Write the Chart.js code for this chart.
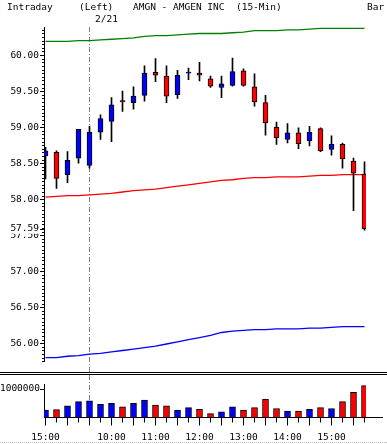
<!DOCTYPE html>
<html>
<head>
<meta charset="utf-8">
<title>AMGN Intraday</title>
<script src="https://cdn.jsdelivr.net/npm/chart.js@4.4.1/dist/chart.umd.min.js"></script>
<style>
  body { margin: 0; background: #fff; }
  #wrap { position: relative; width: 387px; height: 444px; overflow: hidden; font: 9.5px "DejaVu Sans Mono", monospace; color: #000; }
  .lbl { position: absolute; line-height: 10px; white-space: pre; }
  #priceBox { position: absolute; left: 0; top: 0; }
  #volBox { position: absolute; left: 0; top: 372px; width: 387px; height: 69px; border-top: 3px double #000; }
  #bottomRule { position: absolute; left: 0; top: 442px; width: 387px; border-top: 1px dotted #bbb; }
</style>
</head>
<body>
<div id="wrap">
  <div id="bottomRule"></div>
  <div id="priceBox"><canvas id="priceChart" width="387" height="372"></canvas></div>
  <div id="volBox"><canvas id="volChart" width="387" height="69"></canvas></div>
  <span class="lbl" style="left:7px;top:2px">Intraday</span>
  <span class="lbl" style="left:79px;top:2px">(Left)</span>
  <span class="lbl" style="left:133px;top:2px">AMGN - AMGEN INC  (15-Min)</span>
  <span class="lbl" style="left:367px;top:2px">Bar</span>
  <span class="lbl" style="left:95px;top:14px">2/21</span>
</div>
<script>
//! bars (15 min), previous session tail + 2/21
const times = ['15:00', '15:15', '15:30', '15:45', '9:30', '9:45', '10:00', '10:15', '10:30', '10:45',
    '11:00', '11:15', '11:30', '11:45', '12:00', '12:15', '12:30', '12:45', '13:00', '13:15',
    '13:30', '13:45', '14:00', '14:15', '14:30', '14:45', '15:00', '15:15', '15:30', '15:45'];

const opens  = [58.60, 58.65, 58.34, 58.57, 58.47, 58.93, 59.08, 59.37, 59.34, 59.44,
    59.76, 59.71, 59.45, 59.75, 59.75, 59.67, 59.55, 59.58, 59.78, 59.56,
    59.34, 59.00, 58.83, 58.92, 58.81, 58.98, 58.69, 58.76, 58.53, 58.35];
const highs  = [58.72, 58.67, 58.66, 58.97, 59.01, 59.17, 59.41, 59.50, 59.56, 59.85,
    59.95, 59.85, 59.79, 59.82, 59.90, 59.71, 59.71, 59.96, 59.81, 59.74,
    59.44, 59.07, 59.05, 58.99, 59.01, 58.99, 58.88, 58.78, 58.57, 58.52];
const lows   = [58.28, 58.15, 58.23, 58.50, 58.43, 58.83, 58.80, 59.22, 59.25, 59.36,
    59.63, 59.34, 59.40, 59.66, 59.64, 59.55, 59.41, 59.57, 59.57, 59.29,
    58.89, 58.76, 58.78, 58.70, 58.74, 58.66, 58.61, 58.43, 57.84, 57.57];
const closes = [58.67, 58.29, 58.54, 58.97, 58.93, 59.12, 59.31, 59.35, 59.43, 59.75,
    59.72, 59.43, 59.72, 59.76, 59.72, 59.57, 59.60, 59.77, 59.58, 59.35,
    59.06, 58.85, 58.92, 58.77, 58.93, 58.67, 58.76, 58.56, 58.36, 57.59];

const volumes = [240000, 260000, 390000, 540000, 570000, 450000, 480000, 360000, 480000, 600000,
    420000, 390000, 240000, 330000, 270000, 120000, 180000, 360000, 240000, 330000,
    630000, 300000, 210000, 210000, 270000, 330000, 300000, 540000, 870000, 1110000];

//! moving average + bands
const upperBand = [60.19, 60.19, 60.19, 60.20, 60.20, 60.21, 60.22, 60.23, 60.24, 60.26,
    60.27, 60.27, 60.28, 60.29, 60.30, 60.30, 60.30, 60.31, 60.32, 60.34,
    60.34, 60.34, 60.35, 60.35, 60.36, 60.37, 60.37, 60.37, 60.37, 60.37];
const midLine   = [58.03, 58.04, 58.05, 58.05, 58.06, 58.07, 58.08, 58.10, 58.12, 58.13,
    58.14, 58.16, 58.18, 58.20, 58.22, 58.24, 58.26, 58.27, 58.29, 58.30,
    58.30, 58.31, 58.31, 58.31, 58.32, 58.33, 58.33, 58.34, 58.34, 58.34];
const lowerBand = [55.80, 55.80, 55.82, 55.83, 55.85, 55.86, 55.88, 55.90, 55.92, 55.94,
    55.96, 55.99, 56.02, 56.05, 56.08, 56.11, 56.15, 56.17, 56.18, 56.19,
    56.19, 56.20, 56.20, 56.20, 56.21, 56.21, 56.22, 56.23, 56.23, 56.23];

const priceTicks = [56.00, 56.50, 57.00, 57.50, 58.00, 58.50, 59.00, 59.50, 60.00];
const volumeTicks = [1000000];

const sessionStart = times.indexOf('9:30');

Chart.defaults.font.family = '"DejaVu Sans Mono", monospace';
Chart.defaults.font.size = 9.5;
Chart.defaults.color = '#000';

const UP = '#0000ff';
const DOWN = '#ff0000';
const candleColors = closes.map((c, i) => c >= opens[i] ? UP : DOWN);
const xMin = -1.5 / 11;
const xMax = 29 + 1.5 / 11;

//! dashed line where the session starts
const sessionLine = {
    id: 'sessionLine',
    beforeDatasetsDraw(chart, args, opts) {
        const { ctx, chartArea, scales: { x } } = chart;
        const px = Math.floor(x.getPixelForValue(sessionStart)) + 0.5;
        ctx.save();
        ctx.strokeStyle = '#808080';
        ctx.lineWidth = 1;
        ctx.setLineDash([5, 2, 1, 2]);
        ctx.beginPath();
        ctx.moveTo(px, opts.fromTop ? 0 : chartArea.top);
        ctx.lineTo(px, opts.toBottom ? chart.height : chartArea.bottom);
        ctx.stroke();
        ctx.restore();
    }
};

//! small ticks on the price axis + last close label
const priceAxisMarks = {
    id: 'priceAxisMarks',
    afterDraw(chart) {
        const { ctx, chartArea, scales: { y } } = chart;
        const x0 = chartArea.left;
        ctx.save();
        ctx.strokeStyle = '#000';
        ctx.lineWidth = 1;
        ctx.beginPath();
        for (let k = Math.ceil(y.min / 0.05 - 1e-6); k * 0.05 <= y.max + 1e-6; k++) {
            const py = Math.round(y.getPixelForValue(k * 0.05)) + 0.5;
            const len = k % 10 === 0 ? 4 : 2;
            ctx.moveTo(x0 - len, py);
            ctx.lineTo(x0, py);
        }
        ctx.stroke();

        const last = closes[closes.length - 1];
        const ly = y.getPixelForValue(last);
        ctx.fillStyle = '#fff';
        ctx.fillRect(0, ly - 5, x0 - 5, 10);
        ctx.fillStyle = '#000';
        ctx.font = '9.5px "DejaVu Sans Mono", monospace';
        ctx.textAlign = 'right';
        ctx.textBaseline = 'middle';
        ctx.fillText(last.toFixed(2), x0 - 5, ly);
        ctx.beginPath();
        ctx.moveTo(x0 - 4, Math.round(ly) + 0.5);
        ctx.lineTo(x0, Math.round(ly) + 0.5);
        ctx.stroke();
        ctx.restore();
    }
};

//! time ticks + base line of the volume panel
const volAxisMarks = {
    id: 'volAxisMarks',
    afterDraw(chart) {
        const { ctx, chartArea, scales: { x, y } } = chart;
        const by = Math.round(chartArea.bottom) + 0.5;
        ctx.save();
        ctx.strokeStyle = '#000';
        ctx.lineWidth = 1;
        ctx.beginPath();
        ctx.moveTo(chartArea.left, by);
        ctx.lineTo(chart.width - 4, by);
        times.forEach((t, i) => {
            const px = Math.floor(x.getPixelForValue(i)) + 0.5;
            ctx.moveTo(px, by);
            ctx.lineTo(px, by + (i % 2 ? 5 : 8));
        });
        volumeTicks.forEach(v => {
            const py = Math.round(y.getPixelForValue(v)) + 0.5;
            ctx.moveTo(chartArea.left - 4, py);
            ctx.lineTo(chartArea.left, py);
        });
        ctx.stroke();
        ctx.restore();
    }
};

//! price chart
new Chart(document.getElementById('priceChart'), {
    type: 'bar',
    data: {
        datasets: [
            {
                type: 'line',
                label: 'upper',
                data: upperBand.map((v, i) => ({ x: i, y: v })),
                borderColor: '#008000',
                borderWidth: 1.3,
                pointRadius: 0,
                order: 3,
            },
            {
                type: 'line',
                label: 'average',
                data: midLine.map((v, i) => ({ x: i, y: v })),
                borderColor: '#ff0000',
                borderWidth: 1.3,
                pointRadius: 0,
                order: 3,
            },
            {
                type: 'line',
                label: 'lower',
                data: lowerBand.map((v, i) => ({ x: i, y: v })),
                borderColor: '#0000ff',
                borderWidth: 1.3,
                pointRadius: 0,
                order: 3,
            },
            {
                label: 'wick',
                data: lows.map((l, i) => ({ x: i, y: [l, highs[i]] })),
                backgroundColor: '#000',
                barThickness: 1,
                grouped: false,
                order: 2,
            },
            {
                label: 'body',
                data: opens.map((o, i) => ({ x: i, y: [o, closes[i]] })),
                backgroundColor: candleColors,
                borderColor: '#000',
                borderWidth: 1,
                borderSkipped: false,
                barThickness: 5,
                minBarLength: 1,
                grouped: false,
                order: 1,
            },
        ]
    },
    options: {
        responsive: false,
        animation: false,
        layout: { padding: { top: 27, right: 21, bottom: 6, left: 0 } },
        plugins: {
            legend: { display: false },
            tooltip: { enabled: false },
            sessionLine: { fromTop: false, toBottom: true },
        },
        scales: {
            x: {
                type: 'linear',
                display: false,
                offset: false,
                min: xMin,
                max: xMax,
            },
            y: {
                min: 55.75,
                max: 60.39,
                beginAtZero: false,
                afterFit: (s) => { s.width = 44; },
                afterBuildTicks: (s) => { s.ticks = priceTicks.map(v => ({ value: v })); },
                grid: { drawOnChartArea: false, drawTicks: false },
                border: { display: true, color: '#000', width: 1 },
                ticks: {
                    padding: 5,
                    autoSkip: false,
                    callback: (v) => Number(v).toFixed(2),
                },
            },
        },
    },
    plugins: [sessionLine, priceAxisMarks],
});

//! volume chart
new Chart(document.getElementById('volChart'), {
    type: 'bar',
    data: {
        datasets: [
            {
                label: 'volume',
                data: volumes.map((v, i) => ({ x: i, y: v })),
                backgroundColor: candleColors,
                borderColor: '#000',
                borderWidth: 1,
                barThickness: 6,
                grouped: false,
            },
        ]
    },
    options: {
        responsive: false,
        animation: false,
        layout: { padding: { top: 4, right: 21, bottom: 0, left: 0 } },
        plugins: {
            legend: { display: false },
            tooltip: { enabled: false },
            sessionLine: { fromTop: true, toBottom: false },
        },
        scales: {
            x: {
                type: 'linear',
                offset: false,
                min: xMin,
                max: xMax,
                afterFit: (s) => { s.height = 27; },
                afterBuildTicks: (s) => { s.ticks = times.map((t, i) => ({ value: i })); },
                grid: { drawOnChartArea: false, drawTicks: false },
                border: { display: false },
                ticks: {
                    padding: 15,
                    autoSkip: false,
                    maxRotation: 0,
                    minRotation: 0,
                    callback: (v) => times[v].endsWith(':00') ? times[v] : '',
                },
            },
            y: {
                min: 0,
                max: 1140000,
                afterFit: (s) => { s.width = 44; },
                afterBuildTicks: (s) => { s.ticks = volumeTicks.map(v => ({ value: v })); },
                grid: { drawOnChartArea: false, drawTicks: false },
                border: { display: true, color: '#000', width: 1 },
                ticks: {
                    padding: 4,
                    autoSkip: false,
                    callback: (v) => String(v),
                },
            },
        },
    },
    plugins: [sessionLine, volAxisMarks],
});
</script>
</body>
</html>
